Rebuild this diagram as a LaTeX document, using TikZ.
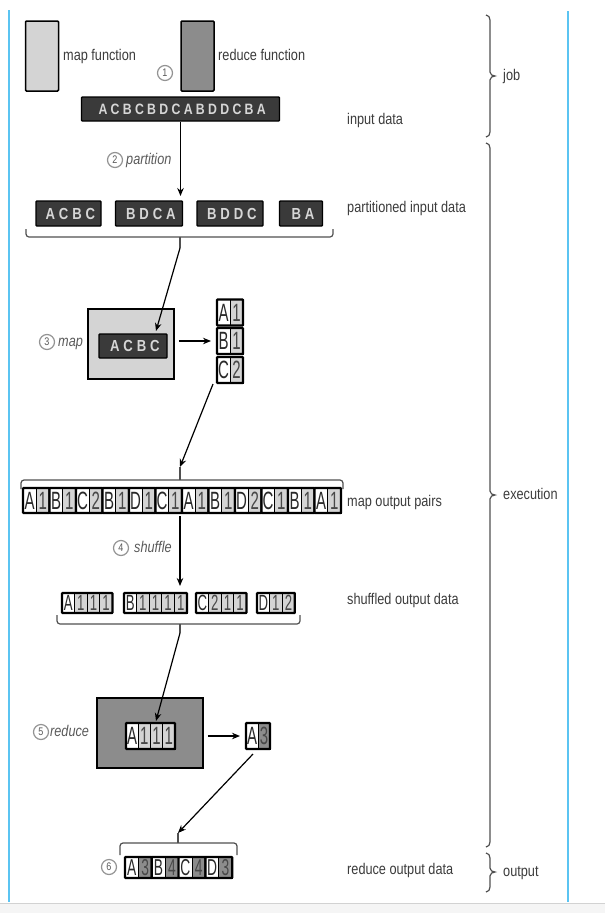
\documentclass[tikz,border=0pt]{standalone}
\usepackage{fontspec}
\setmainfont{Liberation Sans}[FakeStretch=0.82]
\newfontfamily\inbarfont{Liberation Sans}[FakeStretch=0.82,LetterSpace=22]
\newfontfamily\partbarfont{Liberation Sans}[FakeStretch=0.82,LetterSpace=24]
\newfontfamily\cellfont{Liberation Sans}[FakeStretch=0.6]
\usetikzlibrary{arrows.meta,calc}
\definecolor{lightfill}{HTML}{D4D4D4}
\definecolor{darkfill}{HTML}{8C8C8C}
\definecolor{barfill}{HTML}{3A3A3A}
\definecolor{bartext}{HTML}{D6D6D6}
\definecolor{labeltext}{HTML}{3C3C3C}
\definecolor{steptext}{HTML}{5A5A5A}
\definecolor{bluerule}{HTML}{5BC4F2}
\definecolor{bracecol}{HTML}{505050}
\definecolor{numtext}{HTML}{484848}
\definecolor{lettext}{HTML}{2A2A2A}
\def\cellsz{26}
\tikzset{
  fnbox/.style={draw=black, line width=1.5pt, rounded corners=1pt, minimum width=33pt, minimum height=70pt, inner sep=0pt},
  opbox/.style={draw=black, line width=1.5pt, inner sep=0pt},
  databar/.style={draw=black, line width=1.4pt, fill=barfill, text=bartext, minimum height=24pt, inner sep=0pt, rounded corners=0.8pt},
  lbl/.style={anchor=west, text=labeltext, font=\fontsize{15.5}{16}\selectfont, inner sep=0pt, text height=11pt, text depth=3pt},
  steplbl/.style={anchor=west, text=steptext, font=\fontsize{15.5}{16}\selectfont\itshape, inner sep=0pt, text height=11pt, text depth=3pt},
  stepnum/.style={circle, draw=gray!85, line width=1.2pt, minimum size=15pt, inner sep=0pt, text=steptext, font=\fontsize{11}{11}\selectfont},
  flow/.style={draw=black, line width=1.2pt, -{Stealth[length=8pt,width=6.5pt]}},
  brace/.style={draw=bracecol, line width=1.2pt, rounded corners=3pt},
  vbrace/.style={draw=bracecol, line width=1.2pt},
  cellL/.style={draw=black, line width=1pt, fill=white, inner sep=0pt, outer sep=0pt, text=lettext, font=\cellfont\fontsize{\cellsz}{\cellsz}\selectfont},
  cellN/.style={draw=black, line width=1pt, inner sep=0pt, outer sep=0pt, text=numtext, font=\cellfont\fontsize{\cellsz}{\cellsz}\selectfont},
  pairframe/.style={draw=black, line width=2.2pt, inner sep=0pt, outer sep=0pt, rounded corners=0.6pt},
}
% name, xleft, ycenter, cell width, height, letter, numbers, count, number fill
\newcommand\kvgroup[9]{%
  \node[cellL, minimum width=#4, minimum height=#5] (#1-0) at ({#2+#4/2},#3) {#6};
  \foreach \v [count=\i] in {#7} {
    \node[cellN, fill=#9, minimum width=#4, minimum height=#5] (#1-\i) at ({#2+#4*(\i+0.5)},#3) {\v};
  }
  \node[pairframe, minimum width={#4*(#8+1)}, minimum height=#5] (#1) at ({#2+#4*(#8+1)/2},#3) {};
}
\newcommand\sidebrace[5]{% name, top, middle, bottom, label
  \draw[vbrace] (486,#2) to[out=0,in=90] (490,#2+5) -- (490,#3-4) to[out=-90,in=180] (495,#3) to[out=180,in=90] (490,#3+4) -- (490,#4-5) to[out=-90,in=0] (486,#4);
  \node[lbl] (#1) at (503,#3) {#5};
}
\begin{document}
\begin{tikzpicture}[x=1pt,y=-1pt]
\useasboundingbox (0,0) rectangle (605,913);
\fill[white] (0,0) rectangle (605,913);
% frame rules
\fill[gray!8] (0,903) rectangle (605,913);
\draw[gray!35, line width=0.8pt] (0,903) -- (605,903);
\draw[bluerule, line width=1.5pt] (9,10) -- (9,902);
\draw[bluerule, line width=1.5pt] (568,11) -- (568,902);

% job
\node[fnbox, fill=lightfill] (mapfn) at (42,56) {};
\node[lbl] (mapfnlbl) at (63,56) {map function};
\node[fnbox, fill=darkfill] (redfn) at (197.5,56) {};
\node[lbl] (redfnlbl) at (218,56) {reduce function};
\node[stepnum] (s1) at (165,73) {1};
\node[databar, minimum width=198, font=\inbarfont\bfseries\fontsize{15}{15}\selectfont] (inbar) at (180.5,109) {\kern3.3pt ACBCBDCABDDCBA};
\node[lbl] (inlbl) at (347,120) {input data};

% partition
\coordinate (partin) at (180.5,196);
\draw[flow] (inbar.south) -- (partin);
\node[stepnum] (s2) at (115,160) {2};
\node[steplbl] (s2lbl) at (126,160) {partition};
\tikzset{pbar/.style={databar, minimum height=25, font=\partbarfont\bfseries\fontsize{16}{16}\selectfont}}
\node[pbar, minimum width=65] (p1) at (68.5,213.5) {\kern3.8pt ACBC};
\node[pbar, minimum width=67] (p2) at (149,213.5) {\kern3.8pt BDCA};
\node[pbar, minimum width=66] (p3) at (230,213.5) {\kern3.8pt BDDC};
\node[pbar, minimum width=43] (p4) at (301,213.5) {\kern3.8pt BA};
\node[lbl] (partlbl) at (347,208) {partitioned input data};
\draw[brace] (26,229) -- (26,237) -- (333,237) -- (333,229);
\coordinate (pbtick) at (180,248);
\draw[vbrace] (180,237) -- (pbtick);

% map
\node[opbox, fill=lightfill, minimum width=86, minimum height=70] (mapbox) at (131,344) {};
\node[databar, minimum width=68, minimum height=24, font=\partbarfont\bfseries\fontsize{16}{16}\selectfont] (mapbar) at (133,346) {\kern3.8pt ACBC};
\coordinate (mapin) at (156,331);
\draw[flow] (pbtick) -- (mapin);
\node[stepnum] (s3) at (47,342) {3};
\node[steplbl] (s3lbl) at (58,342) {map};
\def\cellsz{25}
\kvgroup{mA}{217}{312.5}{13}{26}{A}{1}{1}{lightfill}
\kvgroup{mB}{217}{341}{13}{26}{B}{1}{1}{lightfill}
\kvgroup{mC}{217}{370}{13}{26}{C}{2}{1}{lightfill}
\draw[flow, shorten <=4pt, shorten >=6pt] (mapbox.east |- mB-0) -- (mB-0.west);

% map output pairs
\draw[brace] (21,489) -- (21,480) -- (343,480) -- (343,489);
\coordinate (mobtick) at (180,467);
\draw[vbrace] (180,480) -- (mobtick);
\draw[flow] ($(mC.south west)+(-4,1)$) -- (mobtick);
\foreach \L/\N [count=\k] in {A/1,B/1,C/2,B/1,D/1,C/1,A/1,B/1,D/2,C/1,B/1,A/1} {
  \kvgroup{mo\k}{23+26.5*(\k-1)}{500.5}{13.25}{25}{\L}{\N}{1}{lightfill}
}
\node[lbl] (molbl) at (347,502) {map output pairs};

% shuffle
\coordinate (moout) at (180,516);
\coordinate (shin) at (180,586);
\draw[flow] (moout) -- (shin);
\node[stepnum] (s4) at (121,548) {4};
\node[steplbl] (s4lbl) at (134,548) {shuffle};
\def\cellsz{22}
\kvgroup{shA}{62}{603}{12.6}{20}{A}{1,1,1}{3}{lightfill}
\kvgroup{shB}{124}{603}{12.6}{20}{B}{1,1,1,1}{4}{lightfill}
\kvgroup{shC}{196}{603}{12.6}{20}{C}{2,1,1}{3}{lightfill}
\kvgroup{shD}{257}{603}{12.6}{20}{D}{1,2}{2}{lightfill}
\draw[brace] (57,615) -- (57,624) -- (300,624) -- (300,615);
\coordinate (shtick) at (180,633);
\draw[vbrace] (180,624) -- (shtick);
\node[lbl] (shlbl) at (347,600) {shuffled output data};

% reduce
\node[opbox, fill=darkfill, minimum width=106, minimum height=70] (redbox) at (150,733) {};
\def\cellsz{25}
\kvgroup{rin}{126}{736}{12.25}{26}{A}{1,1,1}{3}{lightfill}
\coordinate (redin) at (156,721);
\draw[flow] (shtick) -- (redin);
\node[stepnum] (s5) at (41,732) {5};
\node[steplbl] (s5lbl) at (50,732) {reduce};
\kvgroup{rA}{246}{736}{12}{26}{A}{3}{1}{darkfill}
\draw[flow, shorten <=4pt, shorten >=6pt] (redbox.east |- rA-0) -- (rA-0.west);

% output
\draw[brace] (120,855) -- (120,843) -- (237,843) -- (237,855);
\coordinate (outtick) at (178,833);
\draw[vbrace] (178,843) -- (outtick);
\draw[flow] ($(rA.south)+(-5,5)$) -- (outtick);
\def\cellsz{23}
\kvgroup{oA}{125}{867.5}{13.4}{21}{A}{3}{1}{darkfill}
\kvgroup{oB}{151.8}{867.5}{13.4}{21}{B}{4}{1}{darkfill}
\kvgroup{oC}{178.6}{867.5}{13.4}{21}{C}{4}{1}{darkfill}
\kvgroup{oD}{205.4}{867.5}{13.4}{21}{D}{3}{1}{darkfill}
\node[stepnum] (s6) at (109,867) {6};
\node[lbl] (outlbl) at (347,870) {reduce output data};

% side braces
\sidebrace{joblbl}{15}{76}{137}{job}
\sidebrace{execlbl}{143}{495}{847}{execution}
\sidebrace{outputlbl}{853}{872}{892}{output}
\end{tikzpicture}
\end{document}
